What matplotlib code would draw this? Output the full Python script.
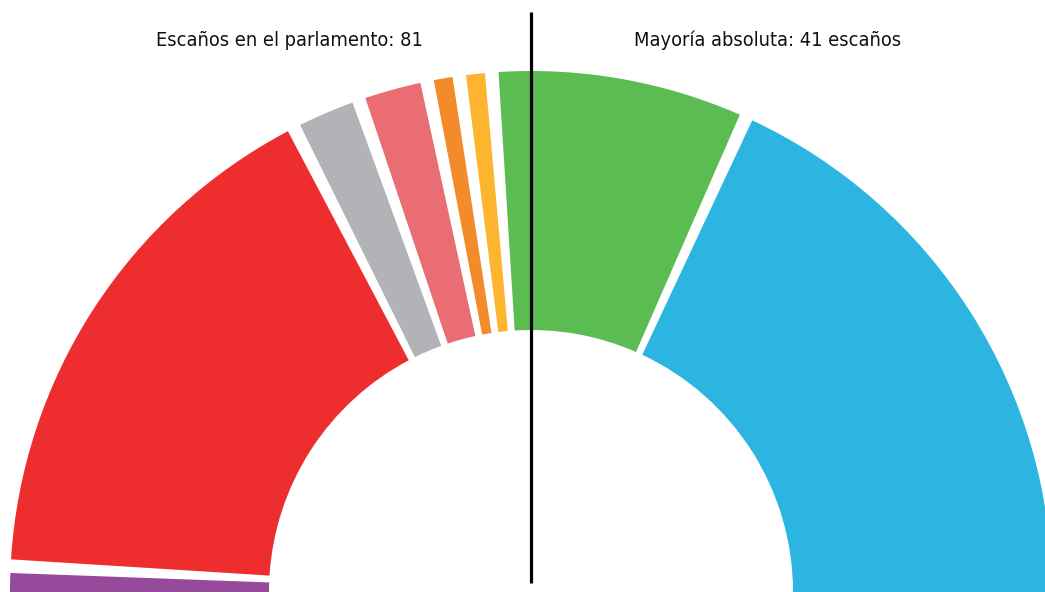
import matplotlib
matplotlib.use("Agg")
import matplotlib.pyplot as plt

# ------------------------------------------------------------
# Datos: escaños por partido (de derecha a izquierda del hemiciclo)
# ------------------------------------------------------------
partidos = ["PP", "Vox", "XAV", "Cs", "UPL", "Soria Ya", "PSOE", "UP"]
escanos = [31, 13, 1, 1, 3, 3, 28, 1]
colores = ["#2cb5e0", "#5bbc52", "#fdb52f", "#f48b2a",
           "#e96d72", "#b2b3b6", "#ee2d2e", "#964a9b"]

total = 81
mayoria = 41
titulo_izq = f"Escaños en el parlamento: {total}"
titulo_der = f"Mayoría absoluta: {mayoria} escaños"

# geometría (en píxeles)
W, H = 1045, 592
cx = 531
r_out = 521
r_in = 262
gap_deg = 1.5

# separaciones angulares entre sectores como sectores invisibles
n_gaps = len(escanos) - 1
deg_per_seat = (180 - n_gaps*gap_deg) / total
gap_val = gap_deg / deg_per_seat

vals, cols = [], []
for i, (v, c) in enumerate(zip(escanos, colores)):
    vals.append(v)
    cols.append(c)
    if i < n_gaps:
        vals.append(gap_val)
        cols.append("none")
half = sum(vals)
vals.append(half)          # mitad inferior oculta
cols.append("none")

fig = plt.figure(figsize=(W/100, H/100), dpi=100)
ax = fig.add_axes([0, 0, 1, 1])

ax.pie(vals, colors=cols, startangle=0, counterclock=True,
       radius=r_out, center=(0, 0),
       wedgeprops=dict(width=r_out - r_in, linewidth=0))

ax.set_xlim(-cx, W - cx)
ax.set_ylim(0, H)
ax.set_aspect("auto")
ax.axis("off")

# línea de mayoría
ax.plot([0, 0], [9, 580], color="black", linewidth=2.3, solid_capstyle="butt")

fuente = ["DejaVu Sans"]
ax.text(289 - cx, H - 40, titulo_izq, ha="center", va="center",
        fontsize=14.3, family=fuente, stretch="condensed", color="#111111")
ax.text(768 - cx, H - 40, titulo_der, ha="center", va="center",
        fontsize=14.3, family=fuente, stretch="condensed", color="#111111")

fig.savefig("out.png", dpi=100)
